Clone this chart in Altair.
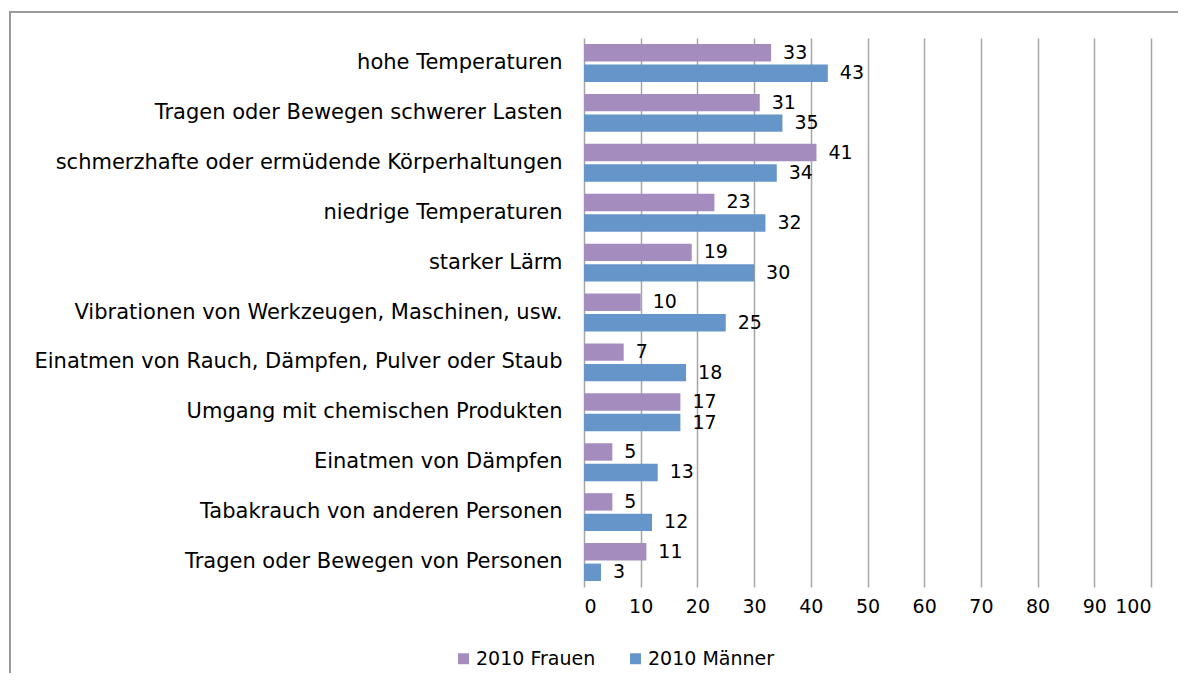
import altair as alt
import pandas as pd

categories = [
    "hohe Temperaturen",
    "Tragen oder Bewegen schwerer Lasten",
    "schmerzhafte oder ermüdende Körperhaltungen",
    "niedrige Temperaturen",
    "starker Lärm",
    "Vibrationen von Werkzeugen, Maschinen, usw.",
    "Einatmen von Rauch, Dämpfen, Pulver oder Staub",
    "Umgang mit chemischen Produkten",
    "Einatmen von Dämpfen ",
    "Tabakrauch von anderen Personen",
    "Tragen oder Bewegen von Personen",
]
series = ["2010 Frauen", "2010 Männer"]
frauen = [33, 31, 41, 23, 19, 10, 7, 17, 5, 5, 11]
maenner = [43, 35, 34, 32, 30, 25, 18, 17, 13, 12, 3]
colors = ["#A48DBE", "#6595C9"]
x_ticks = [0, 10, 20, 30, 40, 50, 60, 70, 80, 90, 100]

rows = []
for c, f, m in zip(categories, frauen, maenner):
    rows.append({"cat": c, "series": series[0], "value": f})
    rows.append({"cat": c, "series": series[1], "value": m})
df = pd.DataFrame(rows)

FONT = "DejaVu Sans"

base = alt.Chart(df).encode(
    y=alt.Y(
        "cat:N",
        sort=categories,
        scale=alt.Scale(paddingInner=0.24, paddingOuter=0.12),
        axis=alt.Axis(
            title=None, labelFont=FONT, labelFontSize=21, labelLimit=800,
            labelPadding=22, ticks=False, domain=False, labelColor="#000000",
        ),
    ),
    yOffset=alt.YOffset("series:N", sort=series, scale=alt.Scale(paddingInner=0.15)),
    x=alt.X(
        "value:Q",
        scale=alt.Scale(domain=[0, 100], nice=False),
        axis=alt.Axis(
            values=x_ticks, title=None, grid=True, gridColor="#A6A6A6",
            gridWidth=1.5, ticks=False, domain=False, labelFont=FONT,
            labelFontSize=19, labelPadding=10, labelColor="#000000",
        ),
    ),
)

bars = base.mark_bar().encode(
    color=alt.Color(
        "series:N",
        sort=series,
        scale=alt.Scale(domain=series, range=colors),
        legend=alt.Legend(
            orient="none", legendX=-130, legendY=611, direction="horizontal",
            title=None, symbolType="square", symbolSize=120, symbolStrokeWidth=0,
            labelFont=FONT, labelFontSize=19, labelColor="#000000",
            columnPadding=30, labelOffset=3,
        ),
    )
)

text = base.mark_text(
    align="left", baseline="middle", dx=12, font=FONT, fontSize=19, color="#000000"
).encode(text="value:Q")

one = pd.DataFrame({"a": [0]})
frame_top = alt.Chart(one).mark_rule(color="#9A9A9A", strokeWidth=2).encode(
    x=alt.value(-574), x2=alt.value(610), y=alt.value(-26)
)
frame_left = alt.Chart(one).mark_rule(color="#9A9A9A", strokeWidth=2).encode(
    x=alt.value(-574), y=alt.value(-27), y2=alt.value(650)
)

chart = alt.layer(frame_top, frame_left, bars, text).properties(
    width=567,
    height=549,
    padding={"left": 576, "top": 30, "right": 27, "bottom": 86},
    autosize=alt.AutoSizeParams(type="none"),
).configure_view(strokeWidth=0)

chart.save("out.html", embed_options={"renderer": "svg", "actions": False})
